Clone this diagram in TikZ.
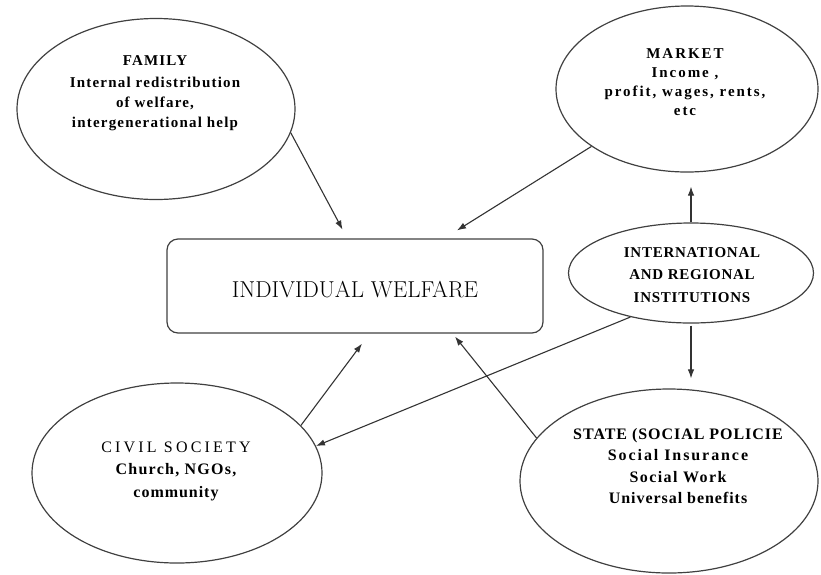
\documentclass[tikz,border=0pt]{standalone}
\usepackage{fontspec}
\setmainfont{Liberation Serif}
\newfontfamily\lmfont{Latin Modern Roman}
\newcommand\spread[1]{\addfontfeature{LetterSpace=#1}}
\usetikzlibrary{arrows.meta,shapes.geometric}
\begin{document}
\begin{tikzpicture}[x=1pt,y=-1pt,
  bubble/.style={draw=black!75, line width=1.2pt, ellipse, inner sep=0pt},
  words/.style={align=center, text=black},
  link/.style={draw=black!80, line width=1.1pt, -{Latex[length=9pt,width=6.5pt]}}
]
\useasboundingbox (0,0) rectangle (821,574);

% central box
\node[draw=black!75, line width=1.2pt, rounded corners=11pt,
      minimum width=376pt, minimum height=94pt, inner sep=0pt] (welfare) at (355,286) {};
\node[font=\lmfont\fontsize{23}{24}\selectfont] (weltxt) at (355,290) {INDIVIDUAL WELFARE};

% surrounding spheres
\node[bubble, minimum width=278pt, minimum height=181pt] (fam) at (156,109) {};
\node[words, font=\fontsize{15}{20}\selectfont\bfseries\spread{8}] (famtxt) at (155,93)
  {FAMILY\\[2pt]Internal redistribution\\of welfare,\\intergenerational help};

\node[bubble, minimum width=262pt, minimum height=166pt] (mkt) at (687,89) {};
\node[words, font=\fontsize{15}{18.8}\selectfont\bfseries\spread{13}] (mkttxt) at (685,82)
  {MARKET\\Income ,\\profit, wages, rents,\\etc};

\node[bubble, minimum width=245pt, minimum height=100pt] (intl) at (691,273) {};
\node[words, font=\fontsize{15}{22.5}\selectfont\bfseries\spread{5}] (intltxt) at (692,275)
  {INTERNATIONAL\\AND REGIONAL\\INSTITUTIONS};

\node[bubble, minimum width=290pt, minimum height=180pt] (civ) at (177,473) {};
\node[words, font=\fontsize{16}{22.5}\selectfont] (civtxt) at (176,471)
  {{\spread{20}CIVIL SOCIETY}\\{\bfseries\spread{8}Church, NGOs,}\\{\bfseries\spread{6}community}};

\node[bubble, minimum width=298pt, minimum height=184pt] (state) at (669,481) {};
\node[words, font=\fontsize{16}{21.5}\selectfont\bfseries] (statetxt) at (678,466)
  {{\spread{6}STATE (SOCIAL POLICIE}\\{\spread{12}Social Insurance}\hspace*{22pt}\\{\spread{9}Social Work}\\{\spread{6}Universal benefits}};

% flows of welfare
\draw[link, shorten >=1pt] (fam.-10) -- ([xshift=-12pt,yshift=8pt]welfare.north);
\draw[link] (mkt.211) -- ([xshift=102pt,yshift=8pt]welfare.north);
\draw[link, shorten >=14pt] (intl.north) -- (intl.north |- mkt.south);
\draw[link, shorten <=2pt, shorten >=10pt] (intl.south) -- (intl.south |- state.north);
\draw[link] (intl.216) -- (civ.11);
\draw[link] (civ.21) -- ([xshift=7pt,yshift=-10pt]welfare.south);
\draw[link] (state.162) -- ([xshift=100pt,yshift=-3pt]welfare.south);
\end{tikzpicture}
\end{document}
